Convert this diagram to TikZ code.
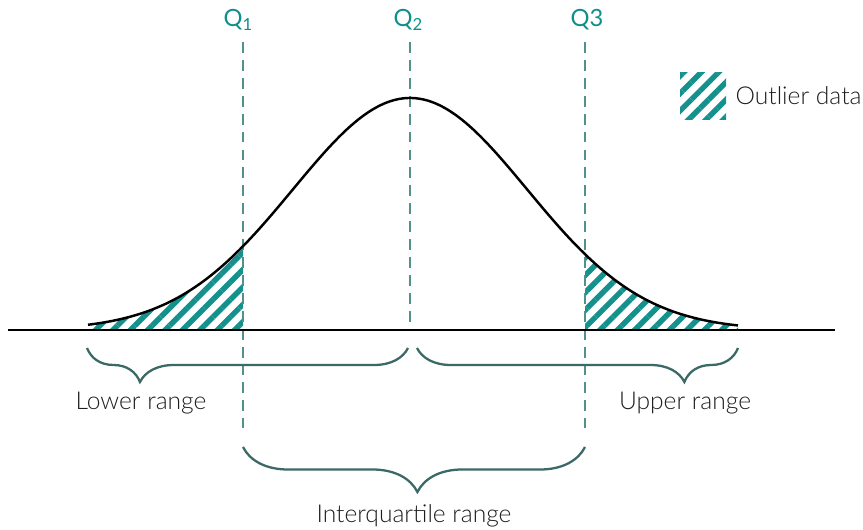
\documentclass[tikz,border=0pt]{standalone}
\usepackage{fontspec}
\setmainfont{Lato Light}
\newfontfamily\qfont{Lato}
\usetikzlibrary{positioning,calc,decorations.pathreplacing,patterns.meta}
\definecolor{qteal}{HTML}{0F8F8A}
\definecolor{hatchteal}{HTML}{14918C}
\definecolor{dashline}{HTML}{52908D}
\definecolor{braceline}{HTML}{3B6966}
\definecolor{txtgrey}{HTML}{1E1E1E}

\begin{document}
\begin{tikzpicture}[x=0.02cm,y=-0.02cm,font=\fontsize{14}{16}\selectfont,
 qline/.style={dashline,line width=1.4pt,dash pattern=on 6.2pt off 4pt},
 rangebrace/.style={braceline,line width=1.3pt,decorate,
  decoration={brace,mirror,amplitude=#1}},
 hatched/.style={pattern={Lines[angle=45,distance=7pt,line width=3.1pt]},pattern color=hatchteal},
 qlabel/.style={qteal,font=\qfont\fontsize{13.5}{15}\selectfont},
 rangelabel/.style={txtgrey}]
\useasboundingbox (0,0) rectangle (863,530);
% quartile positions
\coordinate (q1top) at (243,42);
\coordinate (q1bot) at (243,428);
\coordinate (q2top) at (410,42);
\coordinate (q2bot) at (410,330);
\coordinate (q3top) at (585,42);
\coordinate (q3bot) at (585,428);
\coordinate (axisL) at (8,330);
\coordinate (axisR) at (835,330);
% outlier tails
\fill[hatched] plot[domain=88:243,samples=60] (\x,{330-232*exp(-((\x-410)/100)^2/2.7378)})
 -- (243,330) -- (88,330) -- cycle;
\fill[hatched] plot[domain=585:738,samples=60] (\x,{330-232*exp(-((\x-410)/100)^2/2.7378)})
 -- (738,330) -- (585,330) -- cycle;
\draw[qline] (q1top) -- (q1bot);
\draw[qline] (q2top) -- (q2bot);
\draw[qline] (q3top) -- (q3bot);
\draw[line width=1.3pt] (axisL) -- (axisR);
\draw[line width=1.4pt] plot[domain=88:738,samples=160,smooth] (\x,{330-232*exp(-((\x-410)/100)^2/2.7378)});
\node[qlabel] (q1lab) at (238,20) {Q\raisebox{-0.35ex}{\fontsize{9.5}{9}\selectfont 1}};
\node[qlabel] (q2lab) at (408,20) {Q\raisebox{-0.35ex}{\fontsize{9.5}{9}\selectfont 2}};
\node[qlabel] (q3lab) at (587,20) {Q3};
% ranges
\coordinate (lowL) at (87,348);
\coordinate (lowR) at (408,348);
\coordinate (upL) at (417,348);
\coordinate (upR) at (738,348);
\coordinate (iqrL) at (243,447);
\coordinate (iqrR) at (585,447);
\draw[rangebrace=0.68cm,decoration={aspect=0.165}] (lowL) -- (lowR);
\draw[rangebrace=0.68cm,decoration={aspect=0.833}] (upL) -- (upR);
\draw[rangebrace=0.9cm,decoration={aspect=0.51}] (iqrL) -- (iqrR);
\node[rangelabel] (lowlab) at (141,403) {Lower range};
\node[rangelabel] (uplab) at (685,403) {Upper range};
\node[rangelabel] (iqrlab) at (414,516) {Interquartile range};
% legend
\node[hatched,minimum width=0.92cm,minimum height=0.94cm,inner sep=0pt] (legbox) at (703,96) {};
\node[rangelabel,right=0.06cm of legbox] (legtext) {Outlier data};
\end{tikzpicture}
\end{document}
